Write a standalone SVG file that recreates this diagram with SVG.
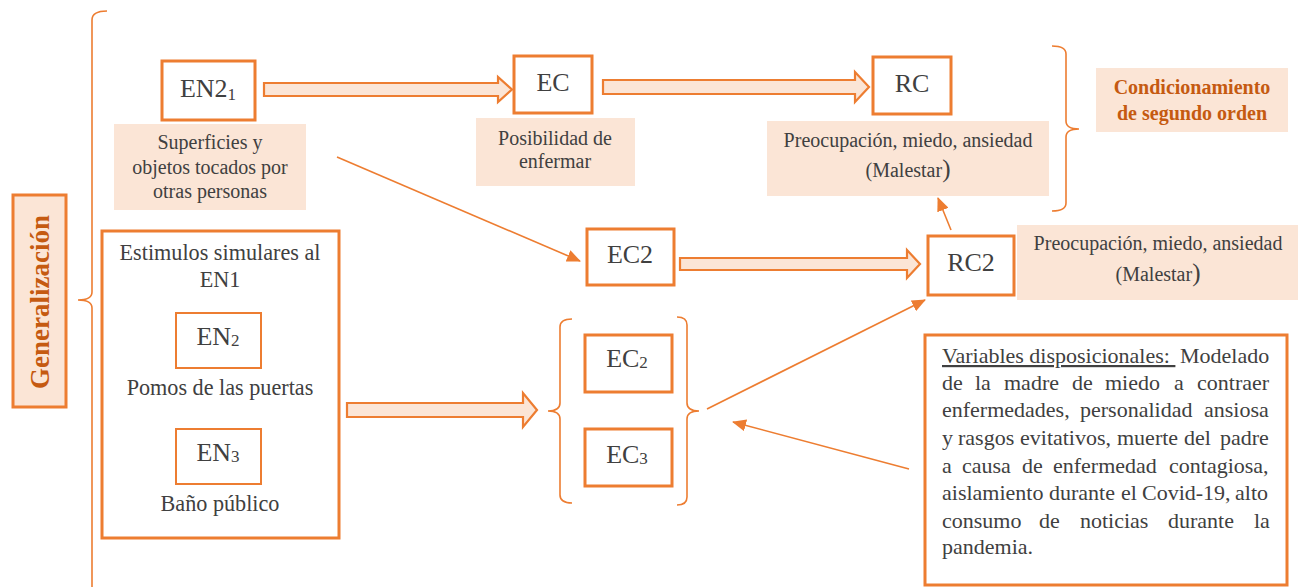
<svg xmlns="http://www.w3.org/2000/svg" width="1300" height="587" viewBox="0 0 1300 587">
<defs>
<style>
.box{fill:#ffffff;stroke:#ed7d31;stroke-width:3}
.thinbox{fill:#ffffff;stroke:#ed7d31;stroke-width:2}
.lab{fill:#fbe5d6;stroke:none}
.t{font-family:'Liberation Serif','Tinos','Times New Roman','DejaVu Serif',serif;fill:#404040}
.b{font-family:'Liberation Serif','Tinos','Times New Roman','DejaVu Serif',serif;fill:#c55a11;font-weight:bold}
.big{font-size:26px}
.mid{font-size:20px}
.lt{font-size:22.2px}
.vt{font-size:22px}
.hollow{fill:#fbe5d6;stroke:#ed7d31;stroke-width:2.2;stroke-linejoin:miter}
.line{fill:none;stroke:#ed7d31;stroke-width:1.6}
.brace{fill:none;stroke:#ed7d31;stroke-width:1.6}
</style>
<marker id="ah" markerWidth="14" markerHeight="12" refX="13" refY="6" orient="auto" markerUnits="userSpaceOnUse">
<path d="M0,0 L14,6 L0,12 Z" fill="#ed7d31"/>
</marker>
</defs>
<rect width="1300" height="587" fill="#ffffff"/>

<g id="connectors">
<path class="brace" d="M107,11 Q92,11 92,20 V292 Q92,300 78,300 Q92,300 92,308 V587"/>
<path class="brace" d="M1052,46 Q1066,46 1066,54 V121 Q1066,129 1079,129 Q1066,129 1066,137 V203 Q1066,211 1052,211"/>
<path class="brace" d="M572,319 Q560,319 560,327 V403 Q560,411 548,411 Q560,411 560,419 V495 Q560,503 572,503"/>
<path class="brace" d="M677,317 Q687,317 687,325 V403 Q687,411 699,411 Q687,411 687,419 V497 Q687,505 677,505"/>
<path class="hollow" d="M264,83 H498 V77 L512,89.5 L498,102 V96 H264 Z"/>
<path class="hollow" d="M603,80 H855 V72 L869,87 L855,102 V94 H603 Z"/>
<path class="hollow" d="M680,258 H907 V250 L920,264 L907,278 V270 H680 Z"/>
<path class="hollow" d="M347,403 H523 V393 L537,410 L523,427 V417 H347 Z"/>
<line class="line" x1="337" y1="157" x2="580" y2="261" marker-end="url(#ah)"/>
<line class="line" x1="951" y1="230" x2="938" y2="198" marker-end="url(#ah)"/>
<line class="line" x1="707" y1="409" x2="925" y2="300" marker-end="url(#ah)"/>
<line class="line" x1="909" y1="469" x2="733" y2="422" marker-end="url(#ah)"/>
</g>

<g id="generalizacion">
<rect x="13" y="195" width="53" height="212" fill="#fbe5d6" stroke="#ed7d31" stroke-width="3"/>
<text class="b" font-size="27" transform="translate(49,302) rotate(-90)" text-anchor="middle">Generalización</text>
</g>

<g id="en21">
<rect class="box" x="162" y="61" width="93" height="59"/>
<text class="t big" x="208" y="97" text-anchor="middle">EN2<tspan font-size="17" dy="3">1</tspan></text>
</g>
<g id="superficies">
<rect class="lab" x="114" y="124" width="192" height="86"/>
<text class="t mid" x="210" y="149" text-anchor="middle">Superficies y</text>
<text class="t mid" x="210" y="174" text-anchor="middle">objetos tocados por</text>
<text class="t mid" x="210" y="198" text-anchor="middle">otras personas</text>
</g>

<g id="ec">
<rect class="box" x="514" y="56" width="78" height="57"/>
<text class="t big" x="553" y="91" text-anchor="middle">EC</text>
</g>
<g id="posibilidad">
<rect class="lab" x="476" y="118" width="159" height="68"/>
<text class="t mid" x="555" y="145" text-anchor="middle">Posibilidad de</text>
<text class="t mid" x="555" y="168" text-anchor="middle">enfermar</text>
</g>

<g id="rc">
<rect class="box" x="873" y="57" width="78" height="57"/>
<text class="t big" x="912" y="92" text-anchor="middle">RC</text>
</g>
<g id="rc-label">
<rect class="lab" x="767" y="121" width="282" height="75"/>
<text class="t mid" x="908" y="147" text-anchor="middle">Preocupación, miedo, ansiedad</text>
<text class="t mid" x="908" y="177" text-anchor="middle">(Malestar<tspan font-size="25">)</tspan></text>
</g>

<g id="condicionamiento">
<rect class="lab" x="1096" y="68" width="192" height="64"/>
<text class="b" font-size="20" x="1192" y="94" text-anchor="middle">Condicionamiento</text>
<text class="b" font-size="20" x="1192" y="120" text-anchor="middle">de segundo orden</text>
</g>

<g id="ec2">
<rect class="box" x="587" y="229" width="87" height="56"/>
<text class="t big" x="630" y="263" text-anchor="middle">EC2</text>
</g>

<g id="rc2">
<rect class="box" x="928" y="236" width="86" height="59"/>
<text class="t big" x="971" y="271" text-anchor="middle">RC2</text>
</g>
<g id="rc2-label">
<rect class="lab" x="1017" y="225" width="281" height="75"/>
<text class="t mid" x="1158" y="250" text-anchor="middle">Preocupación, miedo, ansiedad</text>
<text class="t mid" x="1158" y="281" text-anchor="middle">(Malestar<tspan font-size="25">)</tspan></text>
</g>

<g id="estimulos">
<rect class="box" x="102" y="231" width="237" height="307" stroke-width="2.5"/>
<text class="t lt" x="220" y="260" text-anchor="middle">Estimulos simulares al</text>
<text class="t lt" x="220" y="287" text-anchor="middle">EN1</text>
</g>
<g id="en2">
<rect class="thinbox" x="176" y="313" width="85" height="55"/>
<text class="t big" x="218" y="345" text-anchor="middle">EN<tspan font-size="17" dy="1">2</tspan></text>
<text class="t lt" x="220" y="395" text-anchor="middle">Pomos de las puertas</text>
</g>
<g id="en3">
<rect class="thinbox" x="176" y="429" width="85" height="55"/>
<text class="t big" x="218" y="461" text-anchor="middle">EN<tspan font-size="17" dy="1">3</tspan></text>
<text class="t lt" x="220" y="511" text-anchor="middle">Baño público</text>
</g>

<g id="ec2sub">
<rect class="box" x="585" y="335" width="87" height="57"/>
<text class="t big" x="627" y="367" text-anchor="middle">EC<tspan font-size="17" dy="1">2</tspan></text>
</g>
<g id="ec3sub">
<rect class="box" x="585" y="429" width="87" height="57"/>
<text class="t big" x="627" y="463" text-anchor="middle">EC<tspan font-size="17" dy="1">3</tspan></text>
</g>

<g id="variables">
<rect class="box" x="925" y="335" width="362" height="250" stroke-width="2.5"/>
<text class="t vt" y="363" xml:space="preserve"><tspan x="942" text-decoration="underline">Variables disposicionales: </tspan><tspan x="1180">Modelado</tspan></text>
<text class="t vt" y="390"><tspan x="942">de</tspan><tspan x="975">la</tspan><tspan x="1004">madre</tspan><tspan x="1072">de</tspan><tspan x="1105">miedo</tspan><tspan x="1174">a</tspan><tspan x="1197">contraer</tspan></text>
<text class="t vt" y="417"><tspan x="942">enfermedades,</tspan><tspan x="1080">personalidad</tspan><tspan x="1204">ansiosa</tspan></text>
<text class="t vt" y="445"><tspan x="942">y</tspan><tspan x="958">rasgos</tspan><tspan x="1020">evitativos,</tspan><tspan x="1117">muerte</tspan><tspan x="1184">del</tspan><tspan x="1220">padre</tspan></text>
<text class="t vt" y="473"><tspan x="942">a</tspan><tspan x="962">causa</tspan><tspan x="1022">de</tspan><tspan x="1053">enfermedad</tspan><tspan x="1169">contagiosa,</tspan></text>
<text class="t vt" y="500"><tspan x="942">aislamiento</tspan><tspan x="1049">durante</tspan><tspan x="1121">el</tspan><tspan x="1142">Covid-19,</tspan><tspan x="1235">alto</tspan></text>
<text class="t vt" y="528"><tspan x="942">consumo</tspan><tspan x="1039">de</tspan><tspan x="1080">noticias</tspan><tspan x="1168">durante</tspan><tspan x="1254">la</tspan></text>
<text class="t vt" y="554"><tspan x="942">pandemia.</tspan></text>
</g>
</svg>
